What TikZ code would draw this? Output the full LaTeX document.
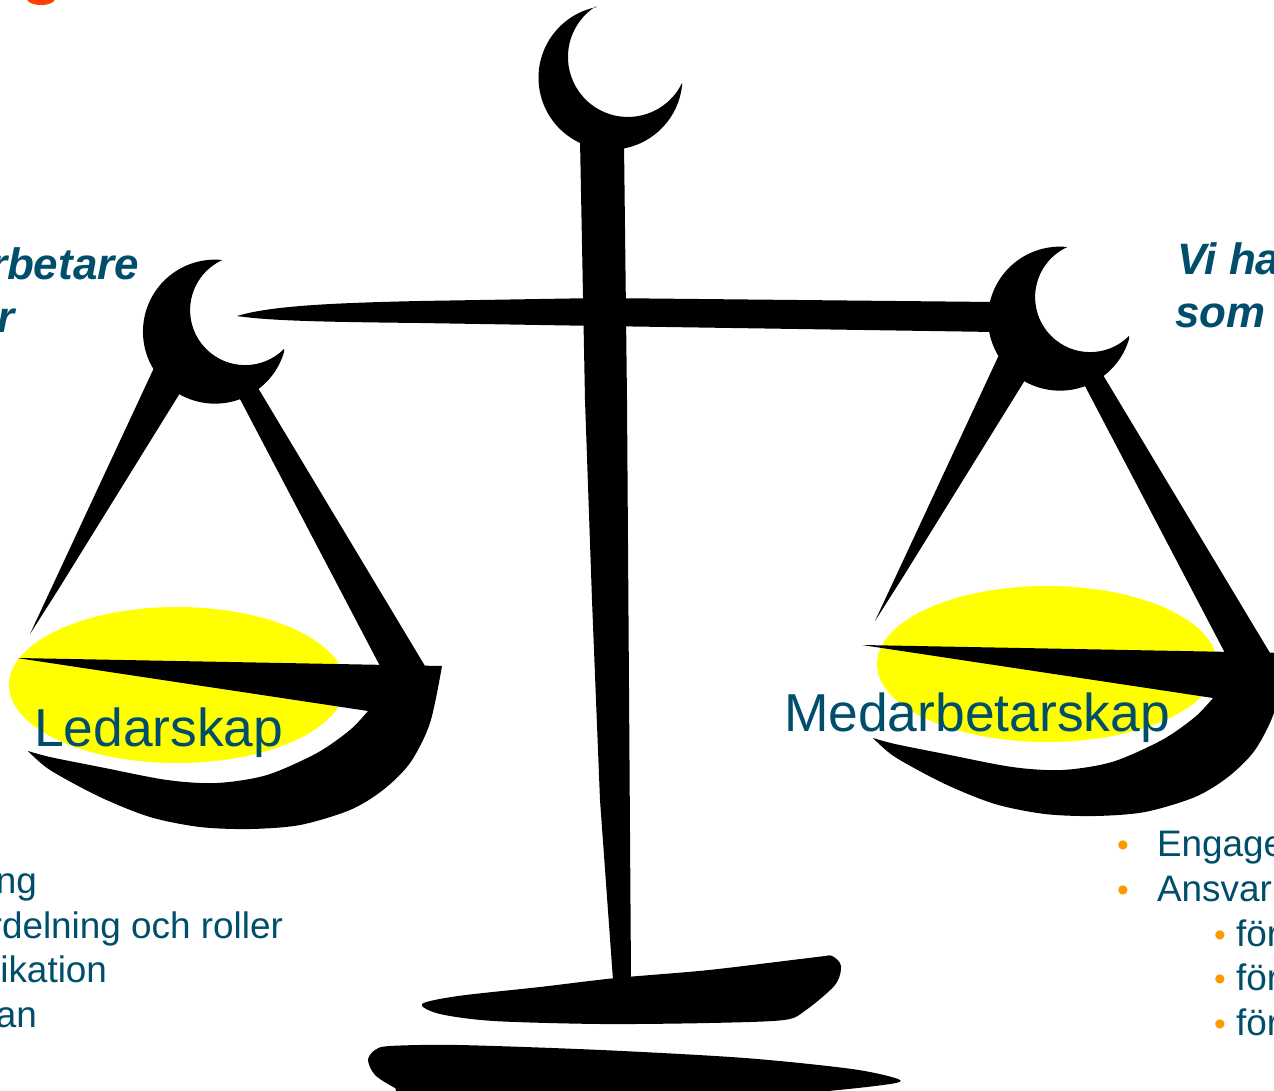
\documentclass[tikz,border=0pt]{standalone}
\usepackage{fontspec}
\setmainfont{Liberation Sans}

\definecolor{textteal}{RGB}{0,78,107}
\definecolor{bulletorange}{RGB}{255,153,0}
\definecolor{titlered}{RGB}{255,64,0}
\definecolor{panyellow}{RGB}{255,255,0}

% one arm of the scale: hook, two strings and the pan
\newcommand{\scalearm}{%
  \fill (222,260) arc[start angle=-84.4, end angle=-344, radius=72]
    -- (284,349) arc[start angle=45, end angle=245, radius=55] -- cycle;
  \fill (160,355) -- (185,385) -- (58,590) -- (30,634) -- cycle;
  \fill (230,380) -- (252,378) -- (425,666) -- (380,666) -- cycle;
  \fill (17,658) -- (442,666)
    -- plot[smooth] coordinates {(442,666) (430,723) (410,763) (383,790) (350,810) (300,825) (250,829) (200,827) (150,817) (100,797) (50,770) (28,751)}
    -- plot[smooth] coordinates {(28,751) (50,757) (100,767) (167,780) (217,783) (267,775) (317,753) (350,730) (368,711)}
    -- cycle;
}

\begin{document}
\begin{tikzpicture}[x=0.02cm, y=-0.02cm,
  every node/.style={inner sep=0pt, outer sep=0pt},
  pantext/.style={font=\fontsize{30.4}{36}\selectfont, text=textteal, anchor=base west},
  quote/.style={font=\fontsize{25}{30}\selectfont\bfseries\itshape, text=textteal},
  listtext/.style={font=\fontsize{21}{25}\selectfont, text=textteal},
  dot/.style={font=\fontsize{19}{23}\selectfont, text=bulletorange, anchor=base}]

% Set the page size
\useasboundingbox (0,0) rectangle (1274,1091);
\clip (0,0) rectangle (1274,1091);

% Yellow fill of the pans
\fill[panyellow] (177,685) ellipse[x radius=168, y radius=78];
\fill[panyellow] (1047,664) ellipse[x radius=170, y radius=78];

% Top hook and post
\fill (597,7) arc[start angle=-100.8, end angle=-353.7, radius=72]
  -- (682,83) arc[start angle=25.7, end angle=237.1, radius=60] -- cycle;
\fill (580,140) -- (624,143) -- (627,400) -- (631,978) -- (613,980) -- (600,800) -- (592,600) -- (585,400) -- cycle;

% Beam
\fill (237,316) .. controls (270,306) and (330,303) .. (420,301) -- (600,298) -- (995,302)
  -- (995,332) -- (600,326) -- (420,323) .. controls (330,322) and (270,321) .. (237,316) -- cycle;

% Left and right arm
\scalearm
\begin{scope}[shift={(845,-13)}]
  \scalearm
\end{scope}

% Foot
\fill plot[smooth cycle] coordinates {(422,1004) (458,996) (540,987) (616,978) (709,970) (817,957) (832,956) (841,966) (835,985) (806,1010) (784,1020) (709,1023) (601,1024) (494,1021) (440,1014)};
\fill plot[smooth cycle] coordinates {(368,1060) (375,1050) (390,1046) (458,1045) (601,1050) (745,1058) (852,1069) (898,1079) (890,1084) (817,1092) (700,1100) (420,1100) (395,1088) (375,1075)};

% Pan labels
\node[pantext] (lead) at (34,746) {Ledarskap};
\node[pantext] (staff) at (784,731) {Medarbetarskap};

% Title remnant and quotes
\fill[titlered] (41,-1) ellipse[x radius=14, y radius=6];
\node[quote, anchor=base east] (quoteleft) at (139,279) {rbetare};
\node[quote, anchor=base east] (quoteleftb) at (15,332) {r};
\node[quote, anchor=base west] (quoteright) at (1177,275) {Vi ha};
\node[quote, anchor=base west] (quoterightb) at (1175,327) {som};

% Lists
\node[listtext, anchor=base east] (listA) at (37,893) {ng};
\node[listtext, anchor=base east] (listB) at (283,938) {rdelning och roller};
\node[listtext, anchor=base east] (listC) at (107,982) {ikation};
\node[listtext, anchor=base east] (listD) at (37,1027) {an};

\node[dot] (dotA) at (1123,856) {•};
\node[listtext, anchor=base west] (itemA) at (1157,856) {Engage};
\node[dot] (dotB) at (1123,901) {•};
\node[listtext, anchor=base west] (itemB) at (1157,901) {Ansvar};
\node[dot] (dotC) at (1220,946) {•};
\node[listtext, anchor=base west] (itemC) at (1236,946) {för};
\node[dot] (dotD) at (1220,990) {•};
\node[listtext, anchor=base west] (itemD) at (1236,990) {för};
\node[dot] (dotE) at (1220,1035) {•};
\node[listtext, anchor=base west] (itemE) at (1236,1035) {för};
\end{tikzpicture}
\end{document}
